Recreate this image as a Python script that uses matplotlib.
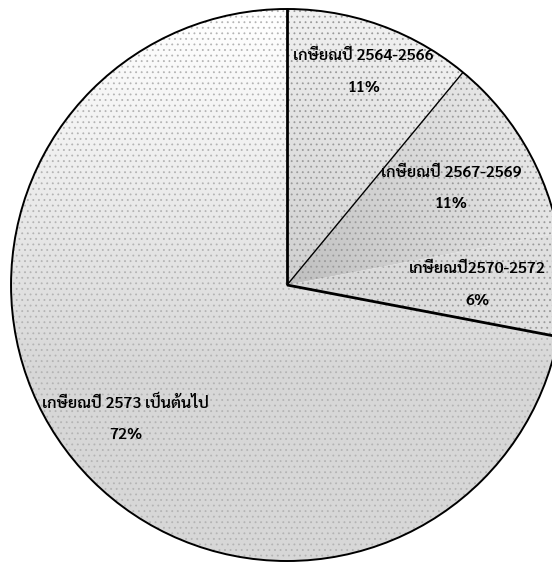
import numpy as np
import matplotlib.pyplot as plt
from matplotlib.patches import Circle, Polygon

# retirement year groups and their shares (%)
groups = ['เกษียณปี 2564-2566', 'เกษียณปี 2567-2569', 'เกษียณปี2570-2572', 'เกษียณปี 2573 เป็นต้นไป']
shares = [11, 11, 6, 72]

# where each label block sits along its wedge's middle angle (fraction of radius)
label_dist = [0.82, 0.69, 0.69, 0.76]
# width of the dividing line at the start of each wedge (0 = no line)
divider_lw = [2.0, 1.0, 0.0, 2.0]
# dot colour of the stipple in each wedge
dot_colors = ['#9a9a9a', '#9a9a9a', '#9a9a9a', '#b4b4b4']

plt.rcParams['font.family'] = ['Sarabun', 'DejaVu Sans']
plt.rcParams['hatch.linewidth'] = 0.6

fig = plt.figure(figsize=(5.52, 5.62), dpi=100)
ax = fig.add_axes([0, 0, 1, 1])

wedges, _ = ax.pie(shares, startangle=90, counterclock=False,
                   wedgeprops=dict(facecolor='none', edgecolor='none', linewidth=0))

lims = (-1.04, 0.96, -1.0036, 1.0326)

# shaded fills: a grey field per wedge, clipped to the wedge
X, Y = np.meshgrid(np.linspace(lims[0], lims[1], 400), np.linspace(lims[2], lims[3], 400))
R = np.hypot(X, Y)
fields = [
    0.81 + 0.13 * R,
    0.75 + 0.15 * R,
    0.84 + 0.04 * R,
    np.clip(0.88 + 0.12 * Y, 0.84, 0.995),
]
for w, f, dc in zip(wedges, fields, dot_colors):
    im = ax.imshow(np.clip(f, 0, 1), cmap='gray', vmin=0, vmax=1, origin='lower',
                   extent=lims, zorder=0, interpolation='bilinear')
    im.set_clip_path(w)
    # stipple texture on top of the grey
    dots = Polygon(w.get_path().vertices, closed=True, facecolor='none',
                   edgecolor=dc, linewidth=0, hatch='...', zorder=0.5)
    ax.add_patch(dots)
    dots.set_clip_path(w)

# outline and dividers between wedges
ax.add_patch(Circle((0, 0), 1, fill=False, edgecolor='black', linewidth=1.4, zorder=2))
total = sum(shares)
angles = 90 - 360 * np.cumsum([0] + shares[:-1]) / total
for a, lw in zip(angles, divider_lw):
    if lw > 0:
        t = np.deg2rad(a)
        ax.plot([0, np.cos(t)], [0, np.sin(t)], color='black', linewidth=lw,
                solid_capstyle='butt', zorder=2)

ax.set_xlim(lims[0], lims[1])
ax.set_ylim(lims[2], lims[3])
ax.set_aspect('auto')
ax.axis('off')

# labels with the share under each
for g, s, d, a in zip(groups, shares, label_dist, angles):
    mid = np.deg2rad(a - 180.0 * s / total)
    cx, cy = d * np.cos(mid), d * np.sin(mid)
    ax.text(cx, cy + 0.058, g, ha='center', va='center', fontsize=11.5, fontweight='semibold')
    ax.text(cx, cy - 0.058, f'{s}%', ha='center', va='center', fontsize=11.5, fontweight='semibold')

fig.savefig('out.png')
